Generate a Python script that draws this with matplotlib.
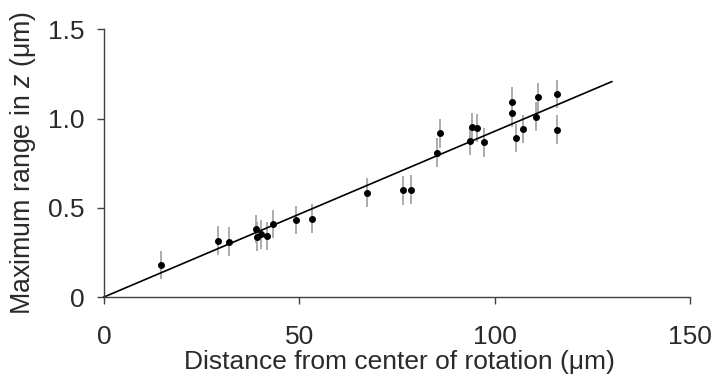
import matplotlib
matplotlib.use("Agg")
import matplotlib.pyplot as plt
import numpy as np

plt.rcParams['font.family'] = ['Liberation Sans', 'DejaVu Sans']
plt.rcParams['mathtext.fontset'] = 'custom'
plt.rcParams['mathtext.it'] = 'Liberation Sans:italic'
plt.rcParams['mathtext.rm'] = 'Liberation Sans'

# data
distance = [14.6, 29.2, 32.1, 38.9, 39.3, 40.1, 41.7, 43.3, 49.1, 53.2, 67.4,
            76.5, 78.5, 85.2, 85.9, 93.6, 94.3, 95.6, 97.4, 104.5, 104.5,
            105.5, 107.2, 110.6, 111.1, 116.1, 116.1]
zrange = [0.179, 0.316, 0.310, 0.381, 0.338, 0.351, 0.342, 0.409, 0.432, 0.439,
          0.585, 0.598, 0.602, 0.809, 0.918, 0.874, 0.953, 0.947, 0.867, 1.095,
          1.031, 0.891, 0.943, 1.011, 1.119, 1.138, 0.938]
zerr = [0.08] * len(distance)
fit_slope = 0.00929
fit_x = [0, 130]

xticks = [0, 50, 100, 150]
xticklabels = ['0', '50', '100', '150']
yticks = [0, 0.5, 1.0, 1.5]
yticklabels = ['0', '0.5', '1.0', '1.5']

fig = plt.figure(figsize=(7.12, 3.82), dpi=100)
ax = fig.add_axes([0.146, 0.2225, 0.823, 0.7003])

axis_col = '#404040'
text_col = '#2a2a2a'

ax.errorbar(distance, zrange, yerr=zerr, fmt='none', ecolor='#a6a6a6',
            elinewidth=1.3, capsize=0, zorder=1)
fx = np.array(fit_x, dtype=float)
ax.plot(fx, fit_slope * fx, color='black', lw=1.2, zorder=2, clip_on=False)
ax.plot(distance, zrange, 'o', color='black', markersize=4, zorder=3)

ax.set_xlim(0, 150)
ax.set_ylim(0, 1.5)
ax.set_xticks(xticks)
ax.set_xticklabels(xticklabels)
ax.set_yticks(yticks)
ax.set_yticklabels(yticklabels)

for s in ['top', 'right']:
    ax.spines[s].set_visible(False)
for s in ['left', 'bottom']:
    ax.spines[s].set_color(axis_col)
    ax.spines[s].set_linewidth(1.0)

ax.tick_params(direction='out', length=5, width=1.0, color=axis_col,
               labelsize=19, labelcolor=text_col)
ax.tick_params(axis='x', pad=15)
ax.tick_params(axis='y', pad=9)

ax.set_xlabel('Distance from center of rotation (μm)', fontsize=19,
              color=text_col, labelpad=1)
ax.set_ylabel(r'Maximum range in $\it{z}$ (μm)', fontsize=19.3,
              color=text_col, labelpad=7)

fig.canvas.draw()
ax.xaxis.label.set_x(0.505)

fig.savefig('out.png', dpi=100)
